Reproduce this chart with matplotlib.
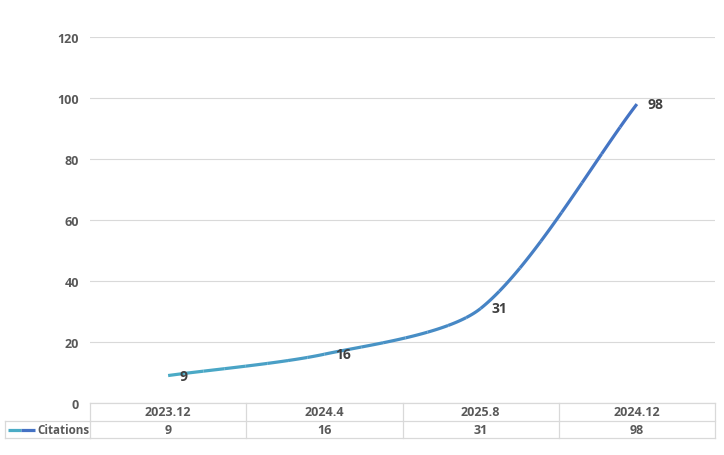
import numpy as np
import matplotlib
matplotlib.use("Agg")
import matplotlib.pyplot as plt
from matplotlib.collections import LineCollection
from matplotlib.colors import LinearSegmentedColormap
import matplotlib.transforms as mtransforms

categories = ["2023.12", "2024.4", "2025.8", "2024.12"]
values = [9, 16, 31, 98]
series_name = "Citations"
yticks = [0, 20, 40, 60, 80, 100, 120]

plt.rcParams['font.family'] = ['Open Sans', 'DejaVu Sans']
W, H = 724, 456
fig = plt.figure(figsize=(W/100, H/100), dpi=100)
ax = fig.add_axes([90/W, (H-404)/H, 625/W, 366/H])

n = len(categories)
x = np.arange(n, dtype=float)
y = np.array(values, dtype=float)
ax.set_xlim(-0.5, n - 0.5)
ax.set_ylim(0, 120)

# Excel-like smoothing (distance-weighted Bezier) used only for rendering the curve
def bezier_curve(xs, ys, tension=0.27, steps=120):
    sx = 625 / n
    sy = 366 / 120
    P = np.column_stack([xs * sx, ys * sy])
    ext = np.vstack([P[0], P, P[-1]])
    out = []
    for i in range(len(P) - 1):
        p0, p1, p2, p3 = ext[i], ext[i+1], ext[i+2], ext[i+3]
        d01 = np.linalg.norm(p1 - p0)
        d12 = np.linalg.norm(p2 - p1)
        d23 = np.linalg.norm(p3 - p2)
        c1 = p1 + (p2 - p0) * tension * d12 / (d01 + d12)
        c2 = p2 - (p3 - p1) * tension * d12 / (d12 + d23)
        t = np.linspace(0, 1, steps)[:, None]
        seg = ((1-t)**3)*p1 + 3*((1-t)**2)*t*c1 + 3*(1-t)*(t**2)*c2 + (t**3)*p2
        if i > 0:
            seg = seg[1:]
        out.append(seg)
    c = np.vstack(out)
    return np.column_stack([c[:, 0] / sx, c[:, 1] / sy])

curve = bezier_curve(x, y)
cmap = LinearSegmentedColormap.from_list("g", ["#4BACC6", "#4472C4"])
nchunks = 24
idx = np.linspace(0, len(curve) - 1, nchunks + 1).astype(int)
chunks = [curve[idx[k]:idx[k+1] + 1] for k in range(nchunks)]
ccols = [cmap(np.mean(c[:, 0]) / (n - 1)) for c in chunks]
lc = LineCollection(chunks, colors=ccols, linewidths=2.3, capstyle='butt',
                    joinstyle='round', zorder=3)
ax.add_collection(lc)

ax.set_yticks(yticks)
ax.set_xticks([])
ax.yaxis.grid(True, color="#d9d9d9", linewidth=0.8)
ax.set_axisbelow(True)
for s in ax.spines.values():
    s.set_visible(False)
ax.tick_params(axis='y', length=0, pad=8, labelsize=9, labelcolor="#595959")
for lbl in ax.get_yticklabels():
    lbl.set_fontweight('bold')

# data labels
for xi, yi in zip(x, y):
    ax.annotate(f"{int(yi)}", (xi, yi), xytext=(11, 0), textcoords='offset pixels',
                ha='left', va='center', fontsize=10, fontweight='bold', color="#404040")

# data table
grid_c = "#d9d9d9"
trans = mtransforms.blended_transform_factory(ax.transData, ax.transAxes)
r1 = -18/366
r2 = -35/366
edges = np.arange(n + 1) - 0.5
kw = dict(color=grid_c, linewidth=0.9, clip_on=False, transform=trans)
ax.plot([edges[0], edges[-1]], [0, 0], **kw)
ax.plot([edges[0], edges[-1]], [r1, r1], **kw)
ax.plot([edges[0], edges[-1]], [r2, r2], **kw)
for e in edges:
    ax.plot([e, e], [0, r2], **kw)
# left label cell
fx0 = 5/W
fx1 = 90/W
fy1 = (H-422)/H
fy2 = (H-439)/H
fig.add_artist(plt.Line2D([fx0, fx1], [fy1, fy1], color=grid_c, linewidth=0.9))
fig.add_artist(plt.Line2D([fx0, fx1], [fy2, fy2], color=grid_c, linewidth=0.9))
fig.add_artist(plt.Line2D([fx0, fx0], [fy1, fy2], color=grid_c, linewidth=0.9))

for xi, cat, v in zip(x, categories, values):
    ax.text(xi, (0 + r1)/2, cat, transform=trans, ha='center', va='center',
            fontsize=9, fontweight='bold', color="#595959")
    ax.text(xi, (r1 + r2)/2, str(v), transform=trans, ha='center', va='center',
            fontsize=9, fontweight='bold', color="#595959")

# legend key
ky = (H-431)/H
fig.add_artist(plt.Line2D([8/W, 21/W], [ky, ky], color="#4BACC6", linewidth=2.3,
                          solid_capstyle='butt'))
fig.add_artist(plt.Line2D([21/W, 35/W], [ky, ky], color="#4472C4", linewidth=2.3,
                          solid_capstyle='butt'))
fig.text(37/W, ky, series_name, ha='left', va='center', fontsize=8.4,
         fontweight='bold', color="#595959")

fig.savefig("out.png", dpi=100, facecolor="white")
